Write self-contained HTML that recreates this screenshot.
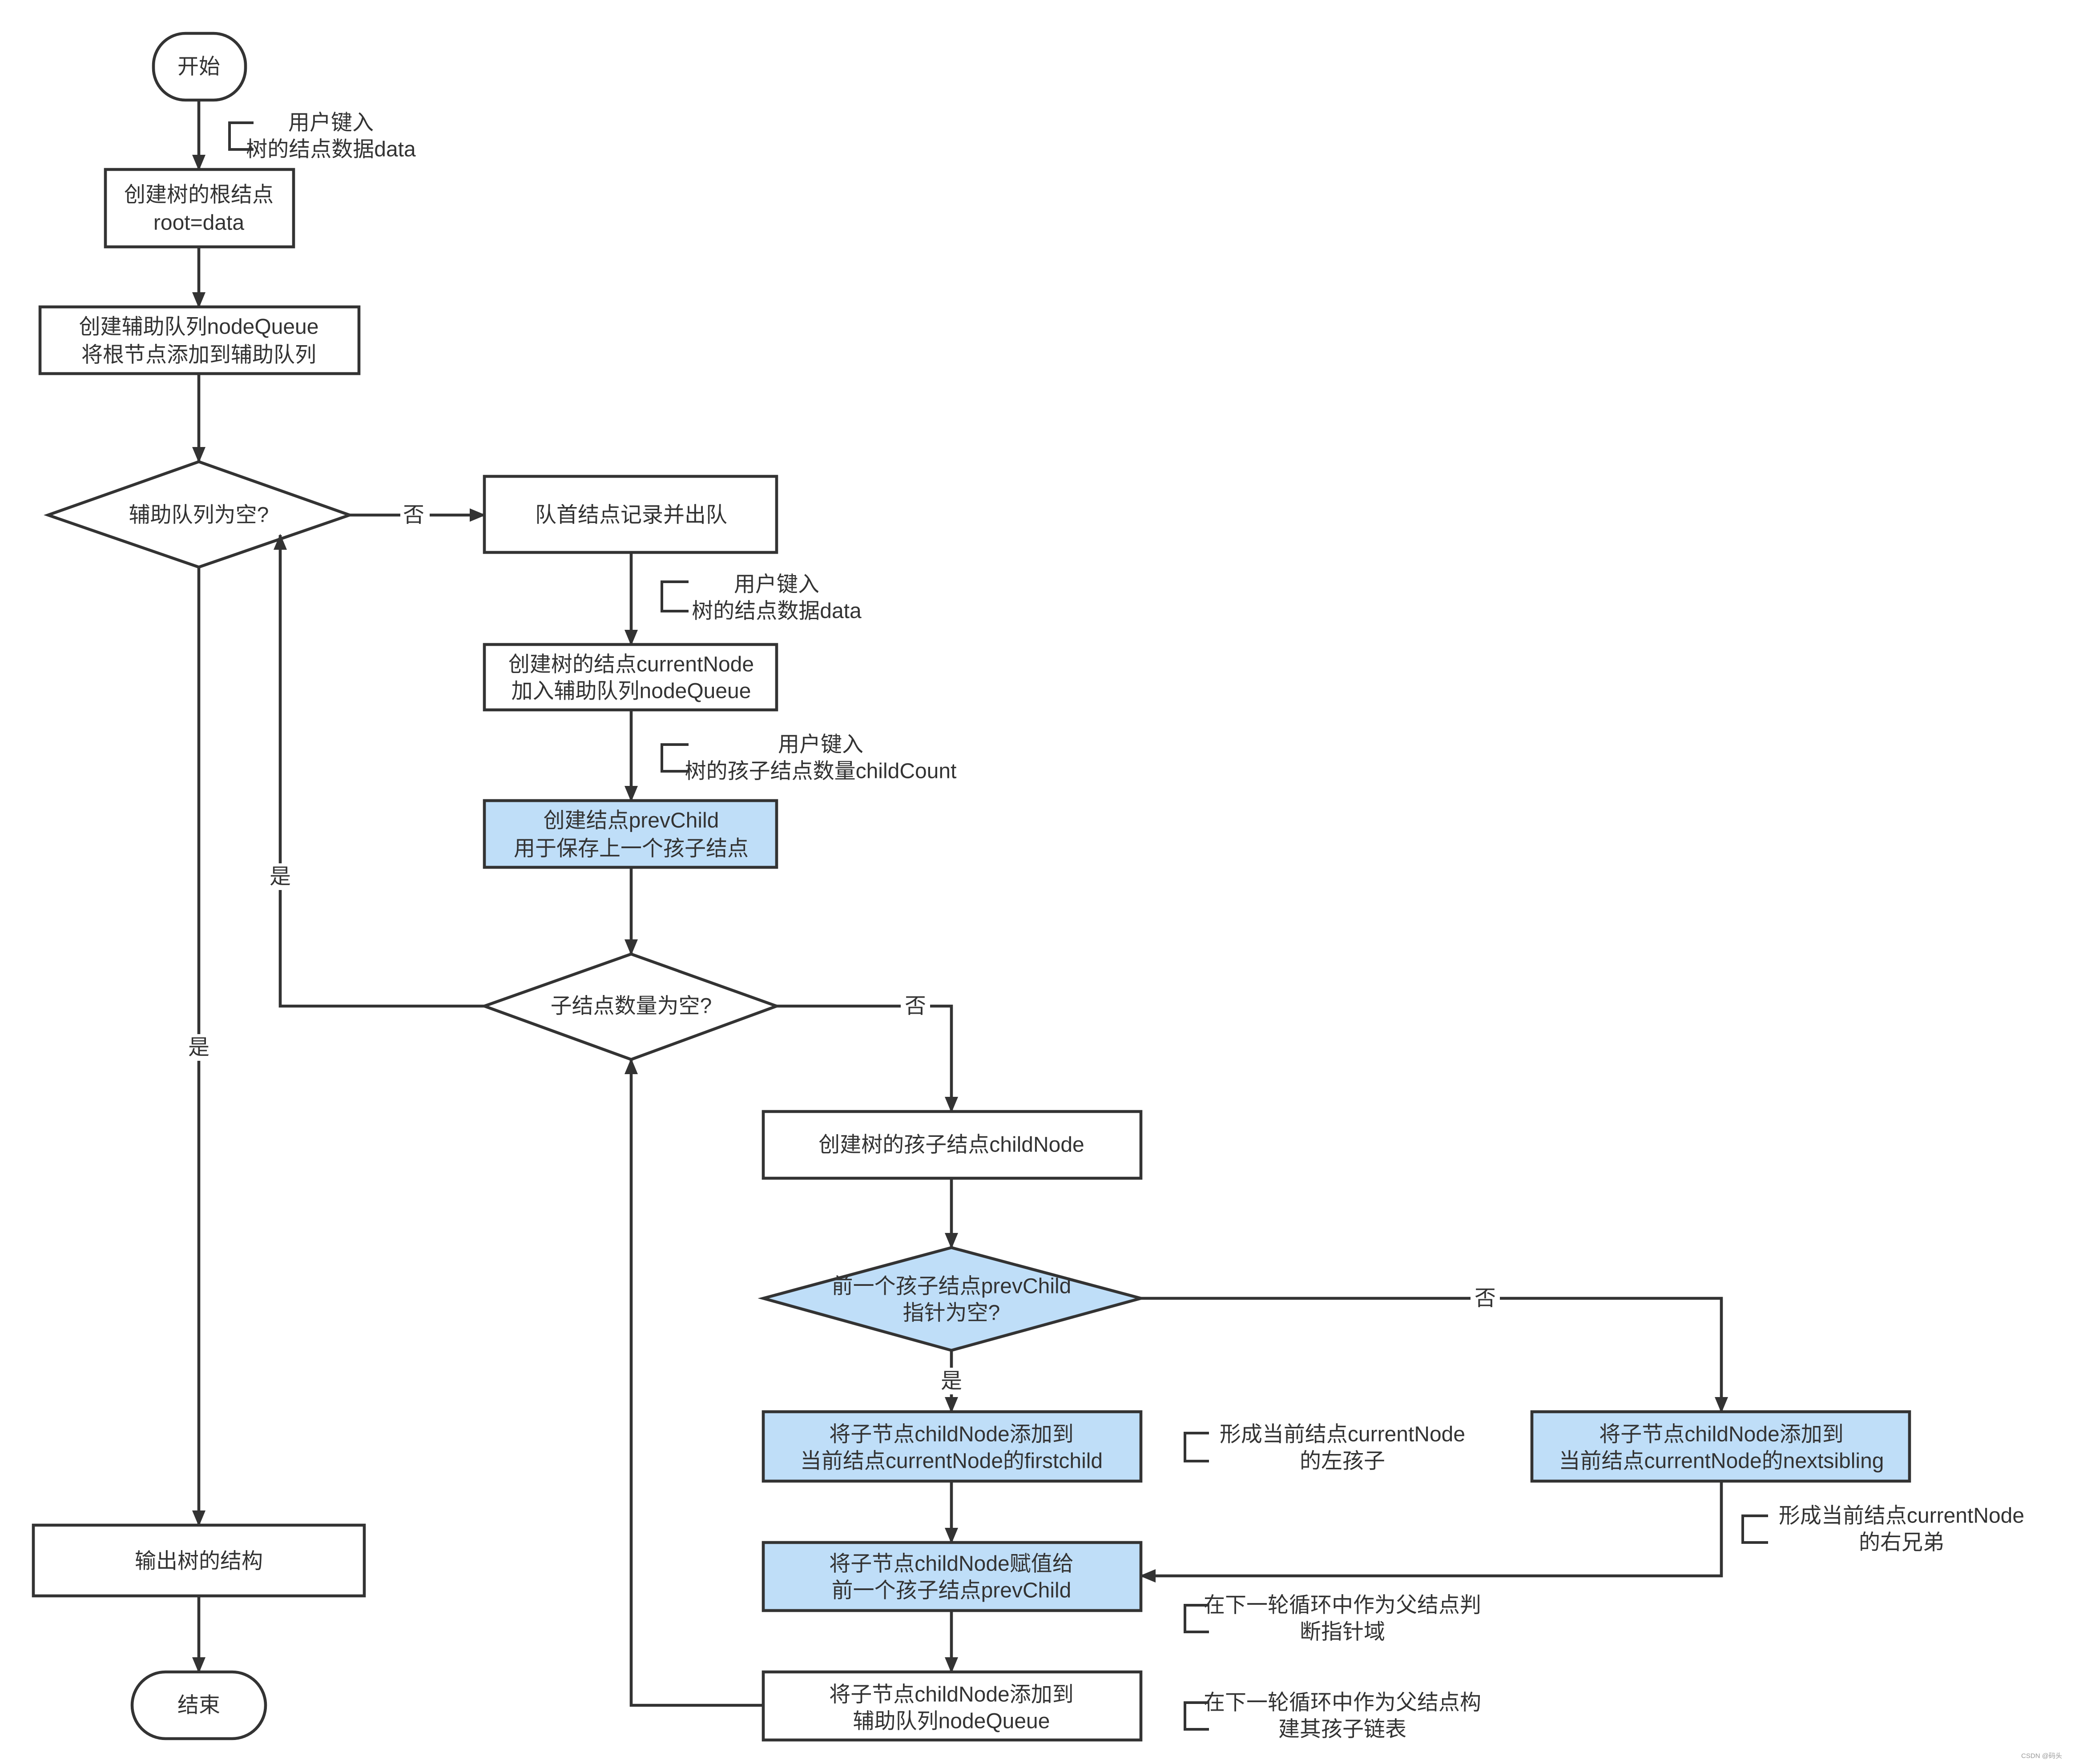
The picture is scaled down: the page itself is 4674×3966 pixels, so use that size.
<!DOCTYPE html>
<html><head><meta charset="utf-8"><style>html,body{margin:0;padding:0;background:#fff}svg{display:block}</style></head><body>
<svg xmlns="http://www.w3.org/2000/svg" width="4674" height="3966" viewBox="0 0 1558 1322">
<defs><marker id="a" markerWidth="12" markerHeight="10" refX="11" refY="5" orient="auto" markerUnits="userSpaceOnUse"><path d="M0,0 L12,5 L0,10 z" fill="#333"/></marker></defs>
<rect width="1558" height="1322" fill="#fff"/>
<g fill="none" stroke="#333" stroke-width="2.2">
<rect x="115" y="25" width="69" height="50" rx="24" fill="#fff"/>
<rect x="79" y="127" width="141" height="58" fill="#fff"/>
<rect x="30" y="230" width="239" height="50" fill="#fff"/>
<polygon points="36,386 149,346 262,386 149,425" fill="#fff"/>
<rect x="363" y="357" width="219" height="57" fill="#fff"/>
<rect x="363" y="483" width="219" height="49" fill="#fff"/>
<rect x="363" y="600" width="219" height="50" fill="#bfdef8"/>
<polygon points="363,754 473,715 582,754 473,794" fill="#fff"/>
<rect x="572" y="833" width="283" height="50" fill="#fff"/>
<polygon points="572,973 713,935 855,973 713,1012" fill="#bfdef8"/>
<rect x="572" y="1058" width="283" height="52" fill="#bfdef8"/>
<rect x="1148" y="1058" width="283" height="52" fill="#bfdef8"/>
<rect x="572" y="1156" width="283" height="51" fill="#bfdef8"/>
<rect x="572" y="1253" width="283" height="51" fill="#fff"/>
<rect x="25" y="1143" width="248" height="53" fill="#fff"/>
<rect x="99" y="1253" width="100" height="50" rx="25" fill="#fff"/>
</g>
<g fill="none" stroke="#333" stroke-width="2.2" marker-end="url(#a)">
<line x1="149" y1="75" x2="149" y2="127"/>
<line x1="149" y1="185" x2="149" y2="230"/>
<line x1="149" y1="280" x2="149" y2="346"/>
<line x1="262" y1="386" x2="363" y2="386"/>
<line x1="473" y1="414" x2="473" y2="483"/>
<line x1="473" y1="532" x2="473" y2="600"/>
<line x1="473" y1="650" x2="473" y2="715"/>
<polyline points="363,754 210,754 210,401"/>
<polyline points="582,754 713,754 713,833"/>
<line x1="713" y1="883" x2="713" y2="935"/>
<polyline points="855,973 1290,973 1290,1058"/>
<line x1="713" y1="1012" x2="713" y2="1058"/>
<polyline points="1290,1110 1290,1181 855,1181"/>
<line x1="713" y1="1110" x2="713" y2="1156"/>
<line x1="713" y1="1207" x2="713" y2="1253"/>
<polyline points="572,1278 473,1278 473,794"/>
<line x1="149" y1="425" x2="149" y2="1143"/>
<line x1="149" y1="1196" x2="149" y2="1253"/>
</g>
<g fill="none" stroke="#333" stroke-width="2">
<polyline points="190,92 172,92 172,112 190,112"/>
<polyline points="516,436 496,436 496,458 516,458"/>
<polyline points="516,558 496,558 496,578 516,578"/>
<polyline points="906,1074 888,1074 888,1095 906,1095"/>
<polyline points="1325,1136 1306,1136 1306,1156 1325,1156"/>
<polyline points="906,1203 888,1203 888,1223 906,1223"/>
<polyline points="906,1276 888,1276 888,1296 906,1296"/>
</g>
<g font-family="'Liberation Sans','Noto Sans CJK SC',sans-serif" font-size="16" fill="#333" text-anchor="middle" dominant-baseline="central">
<text x="149" y="50">开始</text>
<text x="248" y="92">用户键入</text><text x="248" y="112">树的结点数据data</text>
<text x="149" y="146">创建树的根结点</text><text x="149" y="167">root=data</text>
<text x="149" y="245">创建辅助队列nodeQueue</text><text x="149" y="266">将根节点添加到辅助队列</text>
<text x="149" y="386">辅助队列为空?</text>
<rect x="300" y="376" width="22" height="20" fill="#fff"/><text x="310" y="386">否</text>
<text x="473" y="386">队首结点记录并出队</text>
<text x="582" y="438">用户键入</text><text x="582" y="458">树的结点数据data</text>
<text x="473" y="498">创建树的结点currentNode</text><text x="473" y="518">加入辅助队列nodeQueue</text>
<text x="615" y="558">用户键入</text><text x="615" y="578">树的孩子结点数量childCount</text>
<text x="473" y="615">创建结点prevChild</text><text x="473" y="636">用于保存上一个孩子结点</text>
<text x="473" y="754">子结点数量为空?</text>
<rect x="199" y="647" width="22" height="20" fill="#fff"/><text x="210" y="657">是</text>
<rect x="675" y="744" width="22" height="20" fill="#fff"/><text x="686" y="754">否</text>
<text x="713" y="858">创建树的孩子结点childNode</text>
<text x="713" y="964">前一个孩子结点prevChild</text><text x="713" y="984">指针为空?</text>
<rect x="1102" y="963" width="22" height="20" fill="#fff"/><text x="1113" y="973">否</text>
<rect x="702" y="1025" width="22" height="20" fill="#fff"/><text x="713" y="1035">是</text>
<text x="713" y="1075">将子节点childNode添加到</text><text x="713" y="1095">当前结点currentNode的firstchild</text>
<text x="1006" y="1075">形成当前结点currentNode</text><text x="1006" y="1095">的左孩子</text>
<text x="1290" y="1075">将子节点childNode添加到</text><text x="1290" y="1095">当前结点currentNode的nextsibling</text>
<text x="1425" y="1136">形成当前结点currentNode</text><text x="1425" y="1156">的右兄弟</text>
<text x="713" y="1172">将子节点childNode赋值给</text><text x="713" y="1192">前一个孩子结点prevChild</text>
<text x="1006" y="1203">在下一轮循环中作为父结点判</text><text x="1006" y="1223">断指针域</text>
<text x="713" y="1270">将子节点childNode添加到</text><text x="713" y="1290">辅助队列nodeQueue</text>
<text x="1006" y="1276">在下一轮循环中作为父结点构</text><text x="1006" y="1296">建其孩子链表</text>
<rect x="138" y="775" width="22" height="20" fill="#fff"/><text x="149" y="785">是</text>
<text x="149" y="1170">输出树的结构</text>
<text x="149" y="1278">结束</text>
<text x="1530" y="1316" font-size="5" fill="#999">CSDN @码头</text>
</g>
</svg>
</body></html>
